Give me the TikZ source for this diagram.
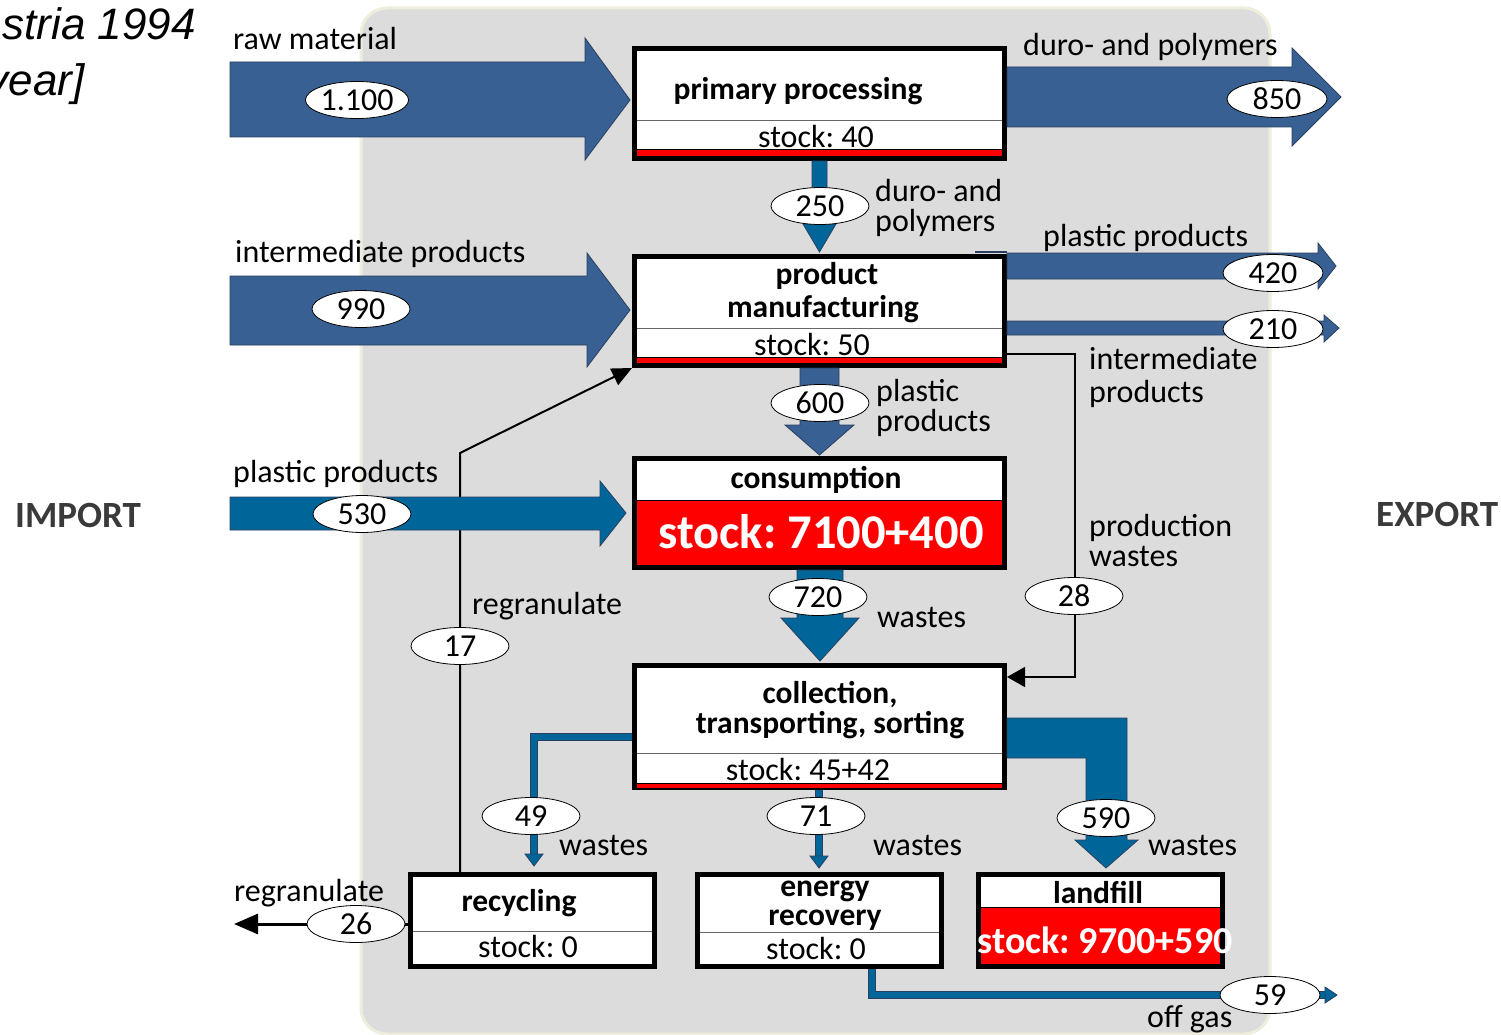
\documentclass[tikz,border=0pt]{standalone}
\usepackage{fontspec}
\setmainfont{Carlito}
\newfontfamily\titlefont{Liberation Sans}
\usetikzlibrary{arrows.meta,shapes.geometric}
\frenchspacing
\definecolor{steelflow}{HTML}{386092}
\definecolor{tealflow}{HTML}{00669A}
\definecolor{bggray}{HTML}{DCDCDC}
\definecolor{bgedge}{HTML}{EFEEDC}
\definecolor{sideclr}{HTML}{3A3A3A}
\definecolor{outl}{HTML}{2A3F5F}
\tikzset{
  procbox/.style={draw=black, line width=5pt, fill=white, inner sep=0pt},
  valnode/.style={ellipse, draw=black, line width=0.8pt, fill=white, inner sep=0pt,
     minimum width=98pt, minimum height=37pt, font=\fontsize{32}{34}\selectfont},
  lbl/.style={inner sep=0pt, anchor=base west, font=\fontsize{32}{34}\selectfont},
  boxtitle/.style={inner sep=0pt, anchor=base, font=\bfseries\fontsize{31.5}{34}\selectfont},
  stocktxt/.style={inner sep=0pt, anchor=base, font=\fontsize{32}{34}\selectfont},
  bigstock/.style={inner sep=0pt, anchor=base, text=white, font=\bfseries\fontsize{48.5}{56}\selectfont},
  divider/.style={draw=gray!80!black, line width=1pt},
  steelarrow/.style={fill=steelflow, draw=outl, line width=0.8pt},
  tealarrow/.style={fill=tealflow, draw=outl, line width=0.8pt},
  pipe/.style={draw=tealflow, line width=6pt},
  thinline/.style={draw=black, line width=2pt},
  sidelbl/.style={inner sep=0pt, anchor=base west, text=sideclr, font=\bfseries\fontsize{37}{40}\selectfont},
}
\begin{document}
\begin{tikzpicture}[x=1pt,y=-1pt]
\useasboundingbox (0,0) rectangle (1501,1035);
\fill[white] (0,0) rectangle (1501,1035);
% background panel
\draw[fill=bggray, draw=bgedge, line width=3pt, rounded corners=26pt] (361,8) rectangle (1270,1034);

% title fragments (cut off at the left edge, as in the reference)
\begin{scope}
\clip (0,0) rectangle (1501,1035);
\node[inner sep=0pt, anchor=base east, font=\titlefont\itshape\fontsize{44}{50}\selectfont] (ttl1) at (196,40) {stria 1994};
\node[inner sep=0pt, anchor=base east, font=\titlefont\itshape\fontsize{44}{50}\selectfont] (ttl2) at (85,96) {year]};
\end{scope}

% side labels
\node[sidelbl] (imp) at (15,527) {IMPORT};
\node[sidelbl] (exp) at (1376,526) {EXPORT};

% ---------------- process boxes ----------------
% primary processing
\node[procbox, minimum width=370pt, minimum height=110pt] (pp) at (819.5,103.5) {};
\draw[divider] (637,121) -- (1002,121);
\fill[red] (637,149) rectangle (1002,156);
\draw[line width=0.8pt] (637,149) -- (1002,149);
\node[boxtitle] (pptxt) at (798,100) {primary processing};
\node[stocktxt] (ppst) at (816,148) {stock: 40};

% product manufacturing
\node[procbox, minimum width=370pt, minimum height=109pt] (pm) at (819.5,311) {};
\draw[divider] (637,328) -- (1002,328);
\fill[red] (637,357) rectangle (1002,363);
\draw[line width=0.8pt] (637,357) -- (1002,357);
\node[boxtitle] (pmtxt1) at (827,284) {product};
\node[boxtitle] (pmtxt2) at (823,317) {manufacturing};
\node[stocktxt] (pmst) at (812,355) {stock: 50};

% consumption
\node[procbox, minimum width=370pt, minimum height=109pt] (co) at (819.5,513) {};
\fill[red] (637,500) rectangle (1002,565);
\draw[line width=0.8pt] (637,500) -- (1002,500);
\node[boxtitle] (cotxt) at (816,488) {consumption};
\node[bigstock] (cost) at (821,548) {stock: 7100+400};

% collection, transporting, sorting
\node[procbox, minimum width=370pt, minimum height=122pt] (cs) at (819.5,726.5) {};
\draw[divider] (637,753) -- (1002,753);
\fill[red] (637,783) rectangle (1002,788);
\draw[line width=0.8pt] (637,783) -- (1002,783);
\node[boxtitle] (cstxt1) at (830,703) {collection,};
\node[boxtitle] (cstxt2) at (830,733) {transporting, sorting};
\node[stocktxt] (csst) at (808,780) {stock: 45+42};

% recycling
\node[procbox, minimum width=244pt, minimum height=92pt] (rc) at (532.5,920.5) {};
\draw[divider] (413,931) -- (652,931);
\node[boxtitle] (rctxt) at (519,911) {recycling};
\node[stocktxt] (rcst) at (528,957) {stock: 0};

% energy recovery
\node[procbox, minimum width=244pt, minimum height=92pt] (er) at (819.5,920.5) {};
\draw[divider] (700,932) -- (939,932);
\node[boxtitle] (ertxt1) at (825,896) {energy};
\node[boxtitle] (ertxt2) at (825,925) {recovery};
\node[stocktxt] (erst) at (816,959) {stock: 0};

% landfill
\node[procbox, minimum width=244pt, minimum height=92pt] (lf) at (1100.5,920.5) {};
\fill[red] (981,907) rectangle (1220,964);
\draw[line width=0.8pt] (981,907) -- (1220,907);
\node[boxtitle] (lftxt) at (1098,903) {landfill};
\node[bigstock, font=\bfseries\fontsize{38}{46}\selectfont] (lfst) at (1105,953) {stock: 9700+590};

% ---------------- thin connectors ----------------
\coordinate (rgturn) at (460,453);
\draw[thinline, -{Triangle[width=18pt,length=20pt]}] (rc.north -| rgturn) -- (rgturn) -- (pm.south west);
\coordinate (pwA) at (1075,354);
\coordinate (pwB) at (1075,677);
\draw[draw=black, line width=1.4pt, -{Triangle[width=20pt,length=18pt]}] (pm.east |- pwA) -- (pwA) -- (pwB) -- (cs.east |- pwB);
\coordinate (rgout) at (234,924);
\draw[draw=black, line width=3pt, -{Triangle[width=20pt,length=24pt]}] (rc.west |- rgout) -- (rgout);

% ---------------- block arrows ----------------
% raw material 1.100
\draw[steelarrow] (230,62) -- (585,62) -- (585,38) -- (630,100) -- (585,160) -- (585,137) -- (230,137) -- cycle;
% 850 out
\draw[steelarrow] (1007,67) -- (1292,67) -- (1292,48) -- (1341,97) -- (1292,146) -- (1292,127) -- (1007,127) -- cycle;
% 250 down
\draw[tealarrow] (812,161) -- (812,224) -- (803,224) -- (819.5,252) -- (836,224) -- (827,224) -- (827,161) -- cycle;
% 990 intermediate products
\draw[steelarrow] (230,276) -- (587,276) -- (587,253) -- (630,310) -- (587,367) -- (587,345) -- (230,345) -- cycle;
% 420 out
\draw[steelarrow] (1007,253) -- (1318,253) -- (1318,243) -- (1336,266) -- (1318,289) -- (1318,279) -- (1007,279) -- cycle;
\draw[draw=outl, line width=1.5pt] (975,252) -- (1007,252);
% 210 out
\draw[steelarrow] (1007,321) -- (1324,321) -- (1324,315) -- (1339,328) -- (1324,342) -- (1324,335) -- (1007,335) -- cycle;
% 600 down
\draw[steelarrow] (800,368) -- (800,425) -- (785,425) -- (819.5,455) -- (854,425) -- (839,425) -- (839,368) -- cycle;
% 530 plastic products
\draw[tealarrow] (230,497) -- (600,497) -- (600,481) -- (626,513) -- (600,546) -- (600,530) -- (230,530) -- cycle;
% 720 wastes
\draw[tealarrow] (797,570) -- (797,618) -- (781,618) -- (820,661) -- (859,618) -- (843,618) -- (843,570) -- cycle;
% 590 wastes to landfill
\draw[tealarrow] (1007,718) -- (1127,718) -- (1127,840) -- (1138,840) -- (1106,868) -- (1075,840) -- (1086,840) -- (1086,758) -- (1007,758) -- cycle;

% ---------------- pipes ----------------
\coordinate (p49a) at (534,737);
\coordinate (p49b) at (534,866);
\draw[draw=outl, line width=8pt] (cs.west |- p49a) -- (p49a) -- ([yshift=10pt]p49b);
\draw[pipe] (cs.west |- p49a) -- (p49a) -- ([yshift=10pt]p49b);
\fill[tealflow, draw=outl, line width=0.8pt] ([xshift=-9pt,yshift=12pt]p49b) -- (p49b) -- ([xshift=9pt,yshift=12pt]p49b) -- cycle;

\coordinate (p71b) at (819,868);
\draw[draw=outl, line width=8pt] (cs.south -| p71b) -- ([yshift=10pt]p71b);
\draw[pipe] (cs.south -| p71b) -- ([yshift=10pt]p71b);
\fill[tealflow, draw=outl, line width=0.8pt] ([xshift=-9pt,yshift=12pt]p71b) -- (p71b) -- ([xshift=9pt,yshift=12pt]p71b) -- cycle;

\coordinate (p59a) at (872,995);
\coordinate (p59b) at (1337,995);
\draw[draw=outl, line width=8pt] (er.south -| p59a) -- (p59a) -- ([xshift=-10pt]p59b);
\draw[pipe] (er.south -| p59a) -- (p59a) -- ([xshift=-10pt]p59b);
\fill[tealflow, draw=outl, line width=0.8pt] ([xshift=-12pt,yshift=-8pt]p59b) -- (p59b) -- ([xshift=-12pt,yshift=8pt]p59b) -- cycle;

% ---------------- value ellipses ----------------
\node[valnode, minimum width=95pt] (v1100) at (357,100) {1.100};
\node[valnode, minimum width=100pt] (v850) at (1277,99) {850};
\node[valnode] (v250) at (820,206) {250};
\node[valnode] (v990) at (361,309) {990};
\node[valnode, minimum width=100pt] (v420) at (1273,273) {420};
\node[valnode, minimum width=100pt] (v210) at (1273,329) {210};
\node[valnode] (v600) at (820,403) {600};
\node[valnode] (v530) at (362,514) {530};
\node[valnode] (v720) at (818,597) {720};
\node[valnode] (v28) at (1074,596) {28};
\node[valnode] (v17) at (460,646) {17};
\node[valnode] (v49) at (531,816) {49};
\node[valnode] (v71) at (816,816) {71};
\node[valnode] (v590) at (1106,818) {590};
\node[valnode] (v26) at (356,924) {26};
\node[valnode, minimum width=100pt] (v59) at (1270,995) {59};

% ---------------- flow labels ----------------
\node[lbl] (t1) at (233,50) {raw material};
\node[lbl] (t2) at (1023,56) {duro- and polymers};
\node[lbl] (t3) at (875,201) {duro- and};
\node[lbl] (t4) at (875,231) {polymers};
\node[lbl] (t5) at (235,262) {intermediate products};
\node[lbl] (t6) at (1043,246) {plastic products};
\node[lbl] (t7) at (1089,369) {intermediate};
\node[lbl] (t8) at (1089,402) {products};
\node[lbl] (t9) at (876,401) {plastic};
\node[lbl] (t10) at (876,431) {products};
\node[lbl] (t11) at (233,482) {plastic products};
\node[lbl] (t12) at (1089,536) {production};
\node[lbl] (t13) at (1089,566) {wastes};
\node[lbl] (t14) at (472,614) {regranulate};
\node[lbl] (t15) at (877,627) {wastes};
\node[lbl] (t16) at (559,855) {wastes};
\node[lbl] (t17) at (873,855) {wastes};
\node[lbl] (t18) at (1148,855) {wastes};
\node[lbl] (t19) at (234,901) {regranulate};
\node[lbl] (t20) at (1147,1027) {off gas};
\end{tikzpicture}
\end{document}
